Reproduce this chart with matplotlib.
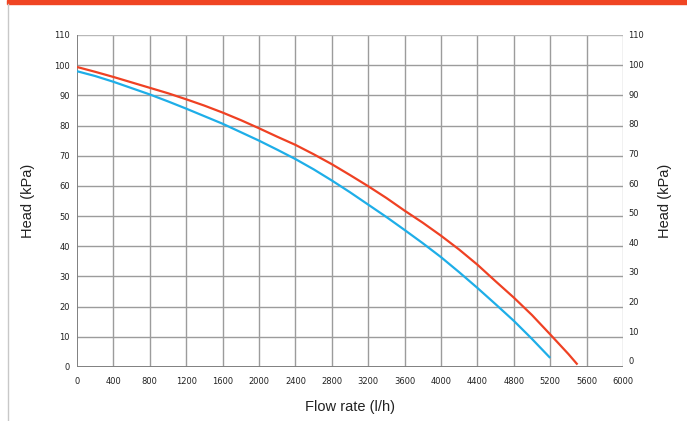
import matplotlib
matplotlib.use("Agg")
import matplotlib.pyplot as plt
from matplotlib.lines import Line2D
from matplotlib.patches import Rectangle

# Data
red_flow = [0, 200, 400, 600, 800, 1000, 1200, 1400, 1600, 1800, 2000, 2200, 2400, 2600,
            2800, 3000, 3200, 3400, 3600, 3800, 4000, 4200, 4400, 4600, 4800, 5000, 5200,
            5400, 5500]
red_head = [99.4, 97.8, 96.1, 94.3, 92.5, 90.7, 88.7, 86.6, 84.3, 81.8, 79.1, 76.3, 73.6, 70.5,
            67.2, 63.6, 59.9, 56.0, 51.8, 47.8, 43.5, 38.9, 33.9, 28.4, 23.0, 17.2, 10.8,
            4.3, 0.8]
blue_flow = [0, 200, 400, 600, 800, 1000, 1200, 1400, 1600, 1800, 2000, 2200, 2400, 2600,
             2800, 3000, 3200, 3400, 3600, 3800, 4000, 4200, 4400, 4600, 4800, 5000, 5200]
blue_head = [98.0, 96.4, 94.5, 92.4, 90.3, 88.0, 85.6, 83.1, 80.6, 77.8, 75.0, 72.0, 68.9, 65.5,
             61.8, 57.9, 53.8, 49.7, 45.4, 41.0, 36.4, 31.4, 26.2, 20.8, 15.3, 9.3, 3.0]
x_ticks = list(range(0, 6001, 400))
y_ticks = list(range(0, 111, 10))

fig = plt.figure(figsize=(6.87, 4.21), dpi=100)
fig.patches.append(Rectangle((7/687, 1-4/421), 1, 4/421, transform=fig.transFigure,
                             color="#f04523", zorder=0))
fig.add_artist(Line2D([7.5/687, 7.5/687], [0, 1-4/421], transform=fig.transFigure,
                      color="#c8c8c8", lw=1))

ax = fig.add_axes([77/687, 1-367/421, 546/687, 332/421])
ax.set_xlim(0, 6000)
ax.set_ylim(0, 110)

grid_c = "#9c9c9c"
for xv in x_ticks[1:]:
    c = "#b8b8b8" if xv == 6000 else grid_c
    ax.axvline(xv, color=c, lw=1.0, zorder=1)
for yv in y_ticks[1:]:
    c = "#b8b8b8" if yv == 110 else grid_c
    ax.axhline(yv, color=c, lw=1.0, zorder=1)

for s in ax.spines.values():
    s.set_visible(False)
ax.axvline(0, color="#808080", lw=1.4, zorder=2)
ax.axhline(0, color="#808080", lw=1.4, zorder=2)

ax.plot(red_flow, red_head, color="#ef4123", lw=1.6, zorder=3, solid_capstyle="butt")
ax.plot(blue_flow, blue_head, color="#1eaee8", lw=1.6, zorder=3, solid_capstyle="butt")

ax.set_xticks(x_ticks)
ax.set_yticks(y_ticks)
ax.tick_params(length=0, labelsize=6, colors="#222222", pad=7)
ax.tick_params(axis="y", pad=5)
ax.set_xlabel("Flow rate (l/h)", fontsize=10.5, color="#222222", labelpad=10, family="Liberation Sans")
ax.set_ylabel("Head (kPa)", fontsize=10.5, color="#222222", labelpad=14, family="Liberation Sans")

ax2 = ax.twinx()
ax2.set_ylim(-2.1, 110)
ax2.set_yticks(y_ticks)
for s in ax2.spines.values():
    s.set_visible(False)
ax2.tick_params(length=0, labelsize=6, colors="#222222", pad=4)
ax2.set_ylabel("Head (kPa)", fontsize=10.5, color="#222222", labelpad=10,
               rotation=90, family="Liberation Sans")

fig.savefig("out.png", dpi=100)
